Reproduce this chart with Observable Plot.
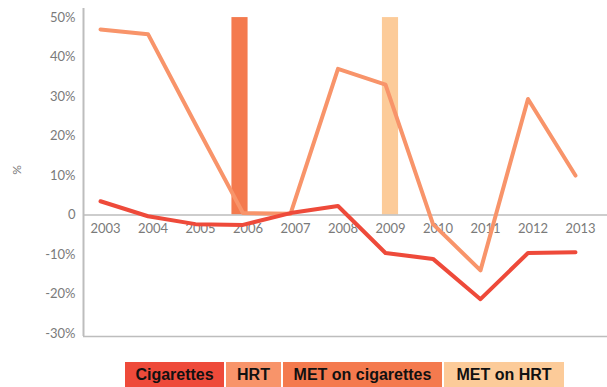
<!DOCTYPE html>
<html>
<head>
<meta charset="utf-8">
<script src="https://cdn.jsdelivr.net/npm/d3@7"></script>
<script src="https://cdn.jsdelivr.net/npm/@observablehq/plot@0.6"></script>
<style>
  html, body { margin: 0; padding: 0; background: #fff; }
  #chart svg { display: block; }
  .legend { display: flex; gap: 2px; margin-left: 125px; margin-top: 12px; height: 25px; }
  .legend span { display: flex; align-items: center; justify-content: center; height: 25px;
    font: bold 16px "Liberation Sans", Arial, sans-serif; color: #111; }
</style>
</head>
<body>
<div id="chart"></div>
<script>
// Annual change, %
const years = [2003, 2004, 2005, 2006, 2007, 2008, 2009, 2010, 2011, 2012, 2013];
const cigarettes = [3.5, -0.3, -2.3, -2.5, 0.5, 2.3, -9.6, -11.1, -21.3, -9.6, -9.4];
const hrt = [47, 45.8, 23, 0.5, 0.3, 37, 33, -2.3, -14, 29.4, 10];

// MET introductions, drawn as full-height bars
const metYears = [2006, 2009];
const metLabels = ["MET on cigarettes", "MET on HRT"];
const metHeight = 50;

const yTicks = [50, 40, 30, 20, 10, 0, -10, -20, -30];

const seriesNames = ["Cigarettes", "HRT", "MET on cigarettes", "MET on HRT"];
const seriesColors = ["#EE4A3A", "#F8946A", "#F47A4E", "#FCCB99"];
const legendWidths = [99, 55, 159, 120];

const lineData = years.flatMap((y, i) => [
  {year: y, value: cigarettes[i], series: "Cigarettes"},
  {year: y, value: hrt[i], series: "HRT"}
]);
const metData = metYears.map((y, i) => ({year: y, value: metHeight, series: metLabels[i]}));

const color = {domain: seriesNames, range: seriesColors};
const halfBar = 0.17;

const plot = Plot.plot({
  width: 607,
  height: 350,
  marginLeft: 83,
  marginRight: 0,
  marginTop: 8,
  marginBottom: 14,
  x: {domain: [2002.642, 2013.674], axis: null},
  y: {domain: [-30.75, 52.3], axis: null},
  color,
  marks: [
    // the two bars sit a little off their year centres
    Plot.rectY(metData.slice(0, 1), {x1: d => d.year - halfBar, x2: d => d.year + halfBar, y1: 0, y2: "value", fill: "series", dx: -3}),
    Plot.rectY(metData.slice(1), {x1: d => d.year - halfBar, x2: d => d.year + halfBar, y1: 0, y2: "value", fill: "series", dx: 5}),
    Plot.ruleY([0], {stroke: "#bdbdbd", strokeWidth: 1.5}),
    Plot.ruleY([-30.75], {stroke: "#bdbdbd", strokeWidth: 1.5}),
    Plot.ruleX([2002.642], {stroke: "#bdbdbd", strokeWidth: 2}),
    Plot.text(yTicks, {x: 2002.642, y: d => d, text: d => d === 0 ? "0" : d + "%",
      textAnchor: "end", dx: -8, fill: "#7a7a7a", fontSize: 13, fontFamily: "Lato, sans-serif"}),
    Plot.text(years, {x: d => d, y: 0, text: d => String(d), dy: 14, dx: 5,
      fill: "#7a7a7a", fontSize: 13, fontFamily: "Lato, sans-serif"}),
    Plot.line(lineData.filter(d => d.series === "HRT"), {x: "year", y: "value", stroke: "series", strokeWidth: 4}),
    Plot.line(lineData.filter(d => d.series === "Cigarettes"), {x: "year", y: "value", stroke: "series", strokeWidth: 4})
  ]
});

// vertical axis title
d3.select(plot).append("text")
  .attr("transform", "translate(21,170) rotate(-90)")
  .attr("text-anchor", "middle")
  .attr("fill", "#7a7a7a")
  .attr("font-size", 12)
  .attr("font-family", "Lato, sans-serif")
  .text("%");

document.getElementById("chart").append(plot);

const legend = d3.select("body").append("div").attr("class", "legend");
seriesNames.forEach((name, i) => {
  legend.append("span")
    .style("background", seriesColors[i])
    .style("width", legendWidths[i] + "px")
    .text(name);
});
</script>
</body>
</html>
